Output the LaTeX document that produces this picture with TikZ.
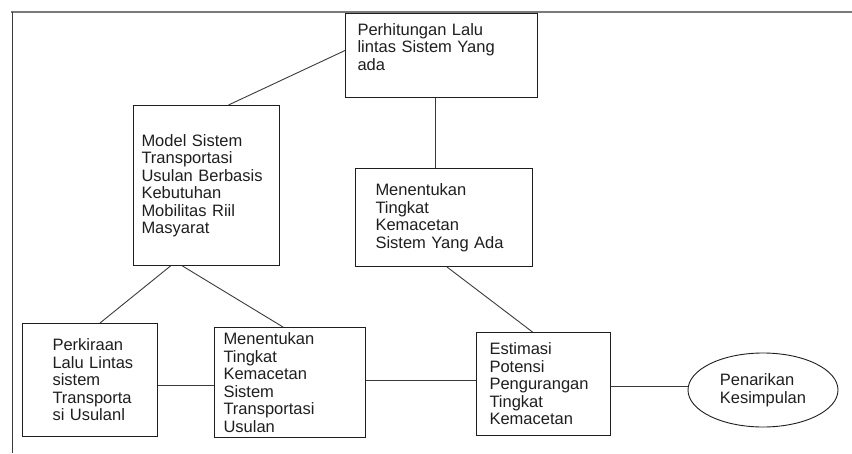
\documentclass[tikz,border=0pt]{standalone}
\usepackage{fontspec}
\setmainfont{Liberation Sans}
\usepackage{xcolor}
\usetikzlibrary{shapes.geometric,positioning}
\definecolor{flowInk}{HTML}{1E1E1E}
\definecolor{flowLine}{HTML}{3A3A3A}
\definecolor{flowFrame}{HTML}{7A7A7A}

\begin{document}
\begin{tikzpicture}[
  x=1pt,y=-1pt,
  font=\fontsize{16.5}{17.5}\selectfont,
  every node/.style={align=left,text=flowInk},
  procbox/.style={rectangle,draw=flowInk,line width=1pt,anchor=north west,inner ysep=0pt},
  endbox/.style ={ellipse,draw=flowInk,line width=0.9pt,minimum width=150pt,minimum height=74pt,inner sep=0pt},
  link/.style   ={draw=flowLine,line width=0.9pt}
]
\useasboundingbox (0,0) rectangle (852,453);

% page frame
\draw[flowFrame,line width=2pt] (11,12) -- (852,12);
\draw[flowLine,line width=1pt] (12,12) -- (12,453);

% top row
\node[procbox,inner xsep=12pt,text width=168pt,minimum height=84pt] (hitung) at (345,13)
  {Perhitungan Lalu\\lintas Sistem Yang\\ada\\\mbox{}};

% middle row
\node[procbox,inner xsep=8pt,text width=130pt,minimum height=160pt] (model) at (133,105)
  {Model Sistem\\Transportasi\\Usulan Berbasis\\Kebutuhan\\Mobilitas Riil\\Masyarat};
\node[procbox,inner xsep=20pt,text width=137pt,minimum height=98pt] (macetada) at (355,168)
  {Menentukan\\Tingkat\\Kemacetan\\Sistem Yang Ada};

% bottom row
\node[procbox,inner xsep=30pt,text width=75pt,minimum height=113pt] (kira) at (22,323)
  {Perkiraan\\\mbox{Lalu Lintas}\\sistem\\Transporta\\si Usulanl};
\node[procbox,inner xsep=9pt,text width=133pt,minimum height=110pt] (macetusul) at (214,327)
  {Menentukan\\Tingkat\\Kemacetan\\Sistem\\Transportasi\\Usulan};
\node[procbox,inner xsep=13pt,text width=108pt,minimum height=103pt] (estimasi) at (476,332)
  {Estimasi\\Potensi\\Pengurangan\\Tingkat\\Kemacetan};
\node[endbox] (simpul) at (763,390) {Penarikan\\Kesimpulan};

% connectors
\draw[link] ([yshift=5pt]hitung.west) -- ([xshift=22pt]model.north);
\draw[link] ([xshift=-6pt]hitung.south) -- ([xshift=-6pt]hitung.south |- macetada.north);
\draw[link] ([xshift=-36pt]model.south) -- ([xshift=10pt]kira.north);
\draw[link] ([xshift=-24pt]model.south) -- ([xshift=-7pt]macetusul.north);
\draw[link] ([xshift=3pt]macetada.south) -- ([xshift=-11pt]estimasi.north);
\draw[link] ([yshift=-5pt]kira.east) -- ([yshift=-5pt]kira.east -| macetusul.west);
\draw[link] ([yshift=2pt]macetusul.east) -- ([yshift=2pt]macetusul.east -| estimasi.west);
\draw[link] ([yshift=-2.5pt]estimasi.east) -- ([yshift=-2.5pt]estimasi.east -| simpul.west);
\end{tikzpicture}
\end{document}
